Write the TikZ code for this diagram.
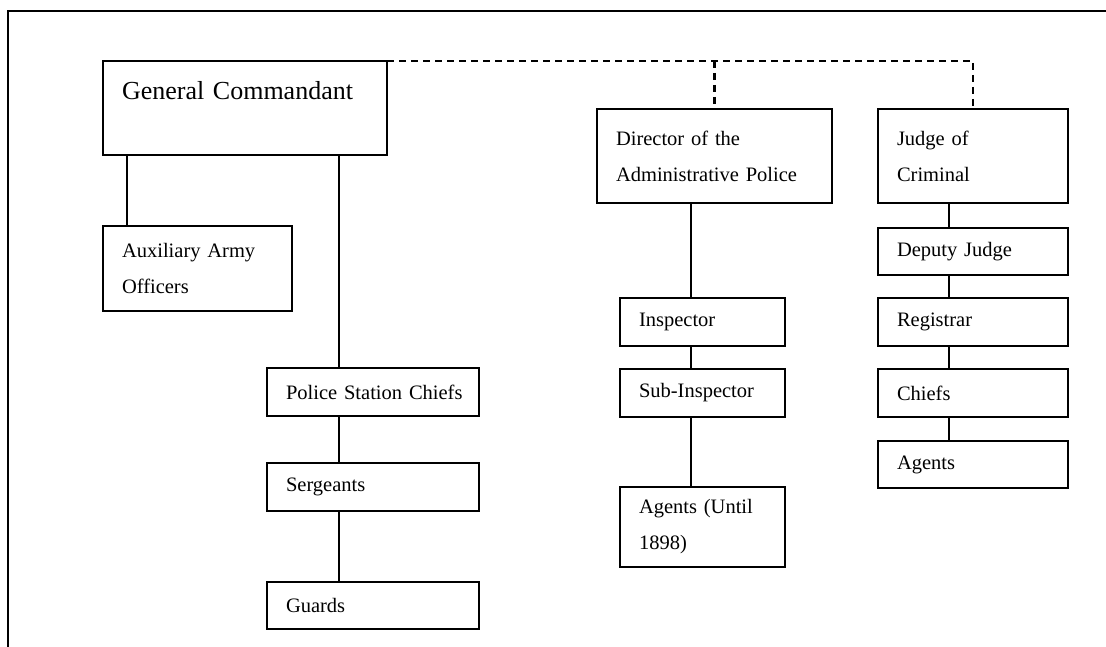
\documentclass[tikz,border=0pt]{standalone}
\usepackage{fontspec}
\setmainfont{Liberation Serif}
\usetikzlibrary{calc}

\begin{document}
\begin{tikzpicture}[x=1pt,y=-1pt,
    box/.style={draw,line width=2.2pt,anchor=north west,align=left,outer sep=0pt,
      inner xsep=19pt,inner ysep=0pt,font=\fontsize{20.5}{36}\selectfont},
    link/.style={line width=1.9pt},
    dashlink/.style={line width=2.2pt,dash pattern=on 7pt off 5pt}]
    \useasboundingbox(0,0)rectangle(1106,647);
    \draw[line width=2.2pt](1106,11)--(8,11)--(8,647);
    \node[box,text width=246pt,minimum height=94pt,font=\fontsize{26}{36}\selectfont](gc)at(103,61){General Commandant\\\mbox{}};
    \node[box,text width=151pt,minimum height=85pt](aux)at(103,226){Auxiliary Army\\Officers};
    \node[box,text width=174pt,minimum height=48pt](psc)at(267,368){\mbox{Police Station Chiefs}};
    \node[box,text width=174pt,minimum height=48pt](serg)at(267,463){Sergeants};
    \node[box,text width=174pt,minimum height=47pt](guards)at(267,582){Guards};
    \node[box,text width=197pt,minimum height=94pt](director)at(597,109){Director of the\\Administrative Police};
    \node[box,text width=127pt,minimum height=48pt](insp)at(620,298){Inspector};
    \node[box,text width=127pt,minimum height=48pt](subinsp)at(620,369){Sub-Inspector};
    \node[box,text width=127pt,minimum height=80pt](agentsa)at(620,487){Agents (Until\\1898)};
    \node[box,text width=152pt,minimum height=94pt](judge)at(878,109){Judge of\\Criminal};
    \node[box,text width=152pt,minimum height=47pt](deputy)at(878,228){Deputy Judge};
    \node[box,text width=152pt,minimum height=48pt](registrar)at(878,298){Registrar};
    \node[box,text width=152pt,minimum height=48pt](chiefs)at(878,369){Chiefs};
    \node[box,text width=152pt,minimum height=47pt](agentsb)at(878,441){Agents};
    \coordinate(xa)at(127,0);
    \coordinate(xb)at(339,0);
    \coordinate(xc)at(691,0);
    \coordinate(xd)at(949,0);
    \draw[link](gc.south-|xa)--(aux.north-|xa);
    \foreach \a/\b in {gc/psc,psc/serg,serg/guards}
      \draw[link](\a.south-|xb)--(\b.north-|xb);
    \foreach \a/\b in {director/insp,insp/subinsp,subinsp/agentsa}
      \draw[link](\a.south-|xc)--(\b.north-|xc);
    \foreach \a/\b in {judge/deputy,deputy/registrar,registrar/chiefs,chiefs/agentsb}
      \draw[link](\a.south-|xd)--(\b.north-|xd);
    \draw[dashlink](gc.north east)--(gc.north east-|judge.north)--(judge.north);
    \draw[dashlink](gc.north east-|director.north)--(director.north);
\end{tikzpicture}
\end{document}
